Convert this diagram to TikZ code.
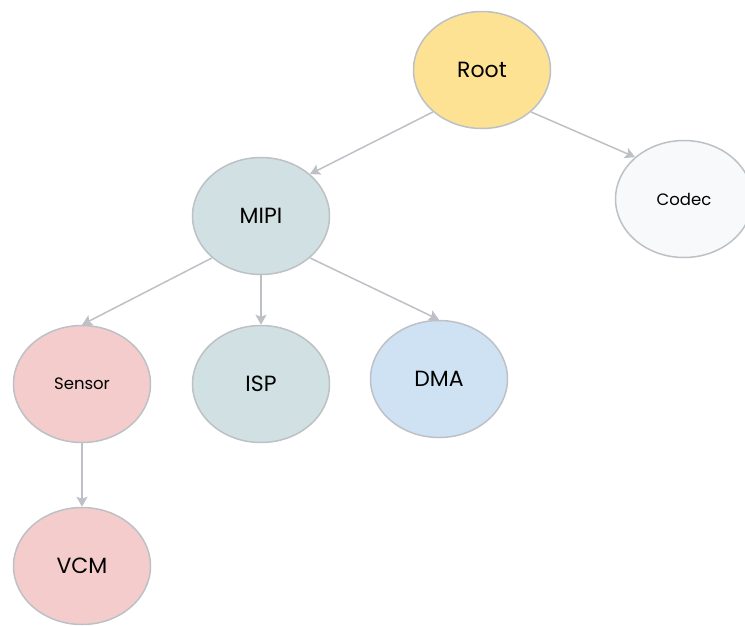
\documentclass[tikz,border=0pt]{standalone}
\usepackage{fontspec}
\setmainfont{Poppins}
\usetikzlibrary{arrows.meta, shapes.geometric}

\definecolor{edgegray}{HTML}{BDC1C6}
\definecolor{rootfill}{HTML}{FDE293}
\definecolor{codecfill}{HTML}{F8F9FA}
\definecolor{tealfill}{HTML}{D0E0E3}
\definecolor{redfill}{HTML}{F4CCCC}
\definecolor{bluefill}{HTML}{CFE2F3}

\begin{document}
\begin{tikzpicture}[x=1pt, y=-1pt, line width=1.5pt,
                    main node/.style={ellipse, draw=edgegray, minimum width=137pt,
                                      minimum height=117pt, inner sep=0pt, font=\fontsize{22}{26}\selectfont},
                    small node/.style={main node, font=\fontsize{16.5}{20}\selectfont},
                    every edge/.style={draw=edgegray, -{Stealth[length=10pt,width=11pt,inset=2pt]}}]
  \useasboundingbox (0,0) rectangle (745,625);

  \node[main node, fill=rootfill] (root) at (482,70) {Root};
  \node[small node, fill=codecfill] (codec) at (684,199) {Codec};
  \node[main node, fill=tealfill] (mipi) at (261,216) {MIPI};
  \node[small node, fill=redfill] (sensor) at (82,384) {Sensor};
  \node[main node, fill=tealfill] (isp) at (261,384) {ISP};
  \node[main node, fill=bluefill] (dma) at (439,379) {DMA};
  \node[main node, fill=redfill] (vcm) at (82,566) {VCM};

  \path
    (root.south west) edge (mipi.north east)
    (root.south east) edge (codec.north west)
    (mipi.south west) edge (sensor.north)
    (mipi.south) edge (isp.north)
    (mipi.south east) edge (dma.north)
    (sensor.south) edge (vcm.north);
\end{tikzpicture}
\end{document}
